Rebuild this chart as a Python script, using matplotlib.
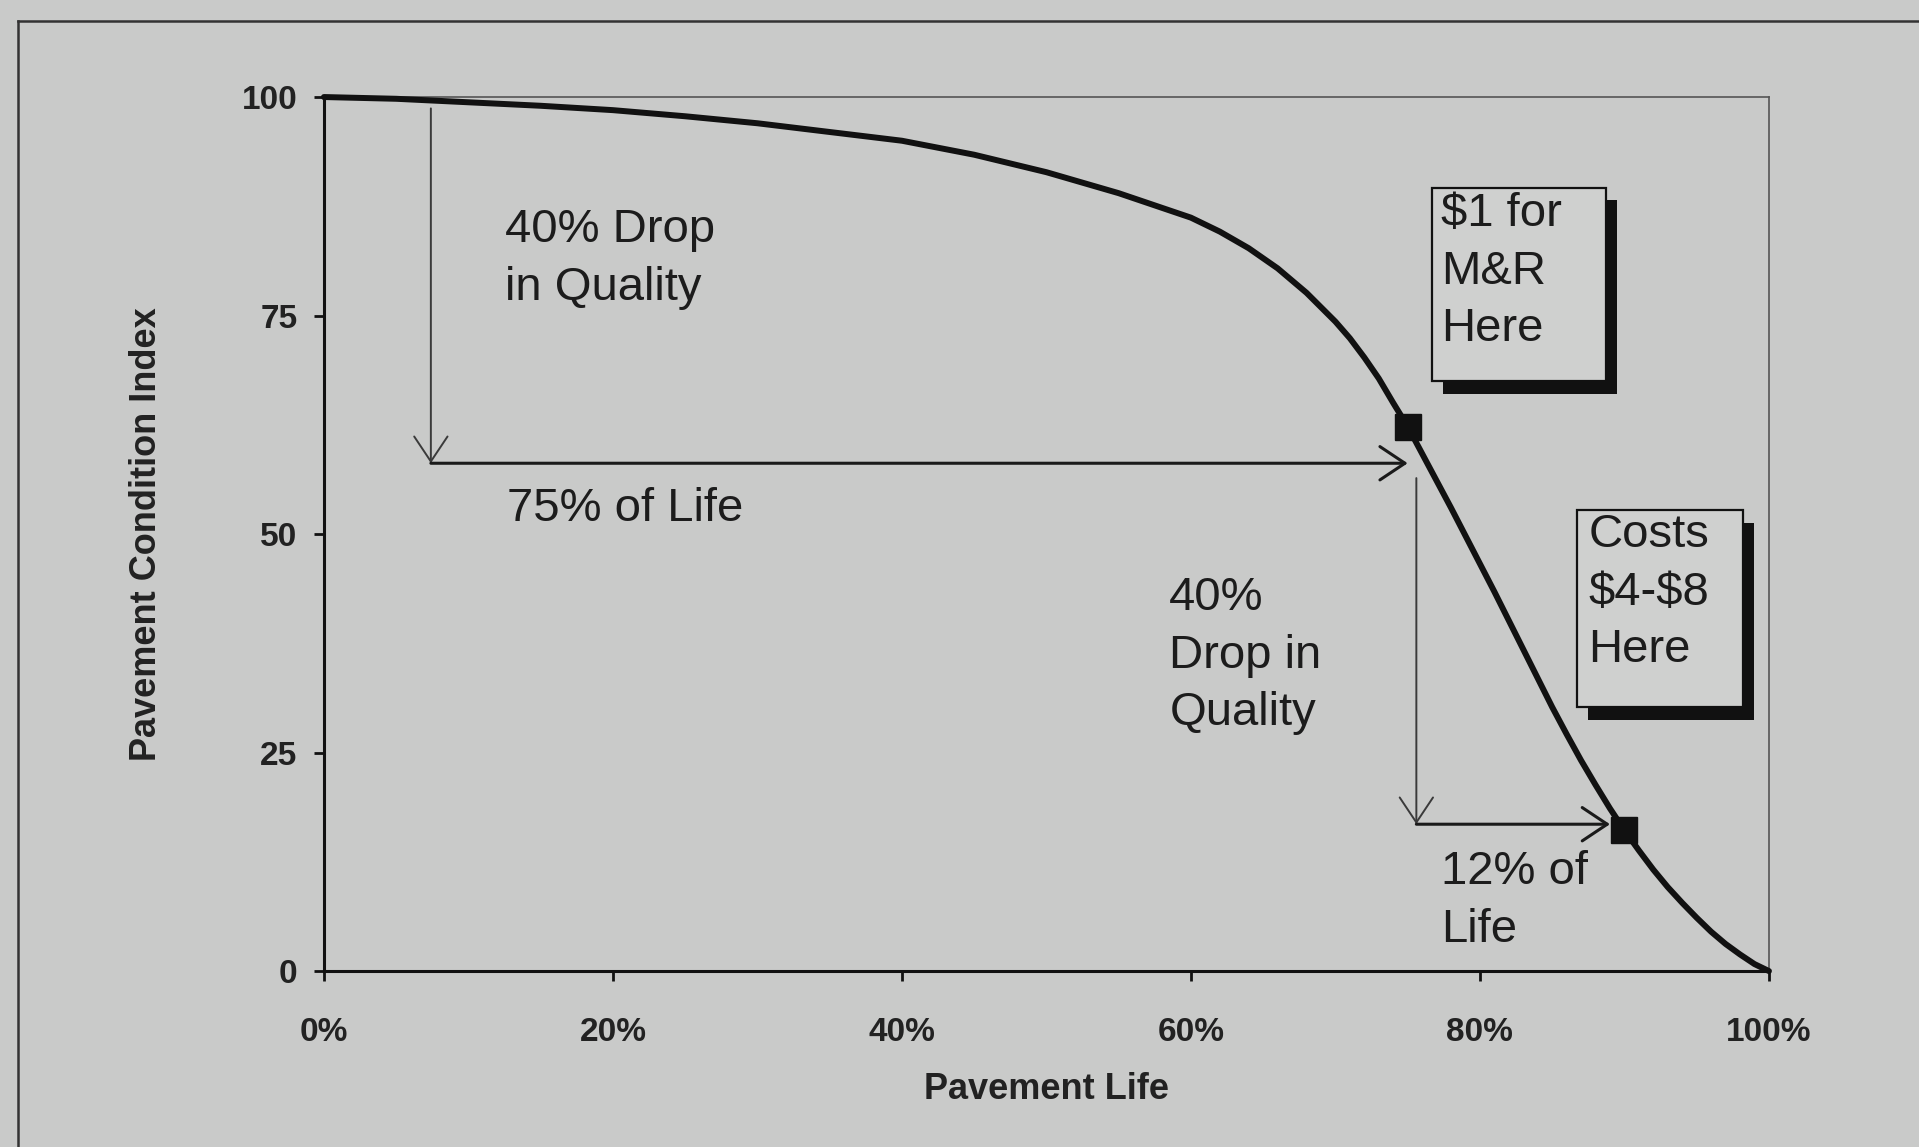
import matplotlib
matplotlib.use("Agg")
import matplotlib.pyplot as plt
from matplotlib.lines import Line2D
from matplotlib.patches import Rectangle
import matplotlib.transforms as mtransforms

# pavement deterioration curve (percent of life vs. PCI)
life_pct = [0, 5, 10, 15, 20, 25, 30, 35, 40, 45, 50, 55, 60, 62, 64, 66, 68,
            70, 71, 72, 73, 74, 75, 76, 77, 78, 79, 80, 81, 82, 83, 84, 85,
            86, 87, 88, 89, 90, 91, 92, 93, 94, 95, 96, 97, 98, 99, 100]
pci = [100, 99.8, 99.4, 99.0, 98.5, 97.8, 97.0, 96.0, 95.0, 93.4, 91.4, 89.0,
       86.2, 84.6, 82.7, 80.4, 77.6, 74.3, 72.4, 70.2, 67.8, 65.0, 62.3,
       59.2, 56.1, 53.0, 49.8, 46.6, 43.4, 40.1, 36.8, 33.5, 30.2, 27.1,
       24.1, 21.3, 18.6, 16.1, 13.8, 11.6, 9.6, 7.8, 6.1, 4.5, 3.1, 1.9,
       0.8, 0]

# treatment points marked on the curve
marker_life = [75, 90]
marker_pci = [62.3, 16.1]

x_ticks = [0, 20, 40, 60, 80, 100]
x_ticklabels = ["0%", "20%", "40%", "60%", "80%", "100%"]
y_ticks = [0, 25, 50, 75, 100]

BG = "#c9cac9"
plt.rcParams["font.family"] = ["Liberation Sans", "DejaVu Sans"]

fig = plt.figure(figsize=(19.19, 11.47), dpi=100, facecolor=BG)
ax = fig.add_axes([0.1688, 0.1534, 0.753, 0.762])
ax.set_facecolor(BG)

ax.plot(life_pct, pci, color="#111111", lw=4.3, clip_on=False, zorder=5,
        solid_capstyle="round", solid_joinstyle="round")
ax.plot(marker_life, marker_pci, ls="none", marker="s", ms=19,
        color="#111111", clip_on=False, zorder=6)

ax.set_xlim(0, 100)
ax.set_ylim(0, 100)
ax.set_xticks(x_ticks)
ax.set_xticklabels(x_ticklabels)
ax.set_yticks(y_ticks)

for side in ("left", "bottom"):
    ax.spines[side].set_linewidth(2.2)
    ax.spines[side].set_color("#111111")
for side in ("top", "right"):
    ax.spines[side].set_linewidth(1.2)
    ax.spines[side].set_color("#555555")

ax.tick_params(axis="x", direction="out", length=7, width=2, pad=26,
               labelsize=24, colors="#111111")
ax.tick_params(axis="y", direction="out", length=7, width=2, pad=12,
               labelsize=24, colors="#111111")
for lab in ax.get_xticklabels() + ax.get_yticklabels():
    lab.set_fontweight("bold")
    lab.set_color("#222222")

ax.set_xlabel("Pavement Life", fontsize=26, fontweight="bold", color="#222222")
ax.set_ylabel("Pavement Condition Index", fontsize=26, fontweight="bold",
              color="#222222")
ax.xaxis.set_label_coords(0.5, -0.135)
ax.xaxis.label.set_va("center")
ax.yaxis.set_label_coords(-0.1225, 0.5)
ax.yaxis.label.set_va("center")

# drop / life arrows
head = "->,head_length=0.45,head_width=0.3"


def arrow(x0, y0, x1, y1, color, lw):
    ax.annotate("", xy=(x1, y1), xytext=(x0, y0),
                arrowprops=dict(arrowstyle=head, color=color, lw=lw,
                                mutation_scale=40, shrinkA=0, shrinkB=0),
                zorder=4)


arrow(7.4, 98.7, 7.4, 58.1, "#3a3a3a", 1.4)
arrow(7.4, 58.1, 75.0, 58.1, "#1a1a1a", 2.2)
arrow(75.6, 56.4, 75.6, 16.8, "#3a3a3a", 1.4)
arrow(75.6, 16.8, 89.0, 16.8, "#1a1a1a", 2.2)

txt = dict(fontsize=34, color="#1c1c1c", ha="left", va="center",
           linespacing=1.4)
ax.text(12.5, 81.5, "40% Drop\nin Quality", **txt)
ax.text(12.7, 52.9, "75% of Life", **txt)
ax.text(58.5, 36.1, "40%\nDrop in\nQuality", **txt)
ax.text(77.3, 8.0, "12% of\nLife", **txt)

# cost call-out boxes with a drop shadow
shadow = mtransforms.offset_copy(ax.transData, fig=fig, x=8, y=-9,
                                 units="points")
for (x0, y0, w, h) in [(76.7, 67.5, 12.0, 22.1), (86.7, 30.2, 11.5, 22.5)]:
    ax.add_patch(Rectangle((x0, y0), w, h, transform=shadow,
                           facecolor="#111111", edgecolor="none", zorder=7))
    ax.add_patch(Rectangle((x0, y0), w, h, facecolor="#cfd0cf",
                           edgecolor="#111111", lw=1.6, zorder=8))

ax.text(77.3, 80.0, "\\$1 for\nM&R\nHere", zorder=9, **txt)
ax.text(87.5, 43.3, "Costs\n\\$4-\\$8\nHere", zorder=9, **txt)

# outer frame
fig.add_artist(Line2D([18 / 1919, 1], [1 - 21 / 1147, 1 - 21 / 1147],
                      transform=fig.transFigure, color="#333333", lw=1.8))
fig.add_artist(Line2D([18 / 1919, 18 / 1919], [0, 1 - 21 / 1147],
                      transform=fig.transFigure, color="#333333", lw=1.8))

fig.savefig("out.png", dpi=100, facecolor=BG)
